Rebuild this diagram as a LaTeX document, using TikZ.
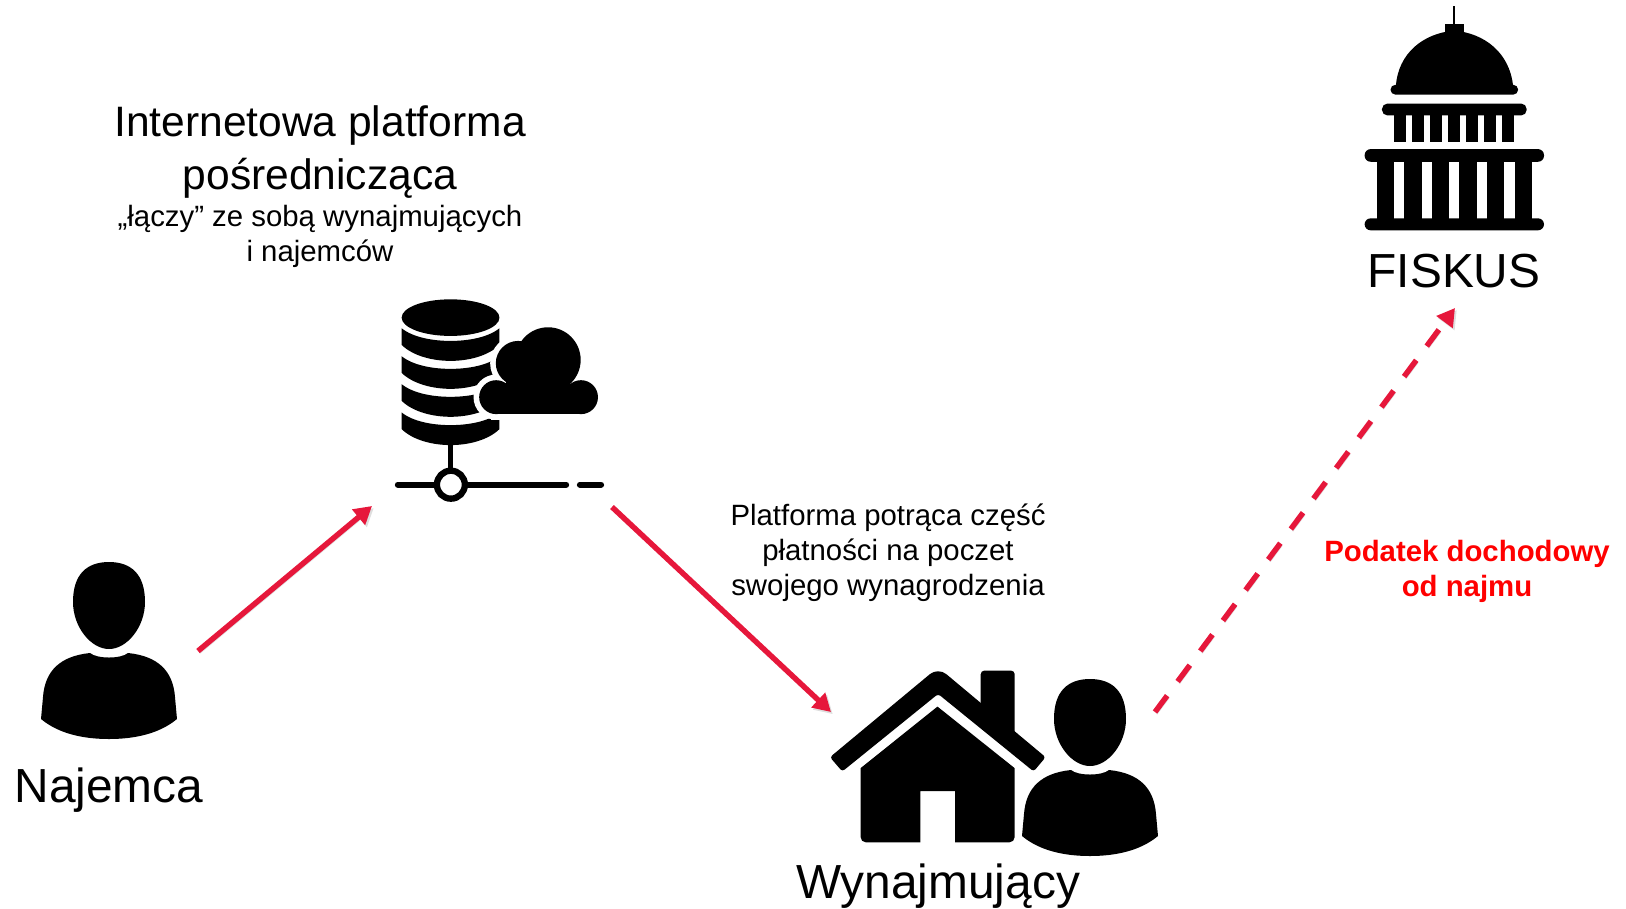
\documentclass[tikz,border=0pt]{standalone}
\usepackage{fontspec}
\setmainfont{Liberation Sans}
\usetikzlibrary{arrows.meta, calc}
\definecolor{crimsonline}{HTML}{E6173B}
\tikzset{
    icon units/.style={x=0.0033333cm, y=-0.0033333cm},
    big label/.style={font=\fontsize{13.6}{16}\selectfont, align=center},
    title label/.style={font=\fontsize{12.1}{14.8}\selectfont, align=center},
    small label/.style={font=\fontsize{8.35}{9.95}\selectfont, align=center},
    tax label/.style={font=\fontsize{8.35}{9.95}\selectfont\bfseries, align=center, text=red},
    flow/.style={crimsonline, line width=1.55pt, -{Triangle[length=5pt, width=5.5pt]},
        preaction={draw=black, opacity=0.13, transform canvas={shift={(0.5pt,-0.6pt)}}, #1}, #1},
    flow/.default={},
    person/.pic={
        \fill (0,0) .. controls (22,0) and (36,12) .. (36,40)
            .. controls (36,65) and (18,87) .. (0,87)
            .. controls (-18,87) and (-36,65) .. (-36,40)
            .. controls (-36,12) and (-22,0) .. (0,0) -- cycle;
        \fill (-19,91) .. controls (-12,97) and (12,97) .. (19,91)
            .. controls (48,94) and (64,108) .. (66,135)
            -- (68,157) .. controls (50,172) and (25,177) .. (0,177)
            .. controls (-25,177) and (-50,172) .. (-68,157)
            -- (-66,135) .. controls (-64,108) and (-48,94) .. (-19,91) -- cycle;
    },
}

\begin{document}
\begin{tikzpicture}[x=0.01cm, y=-0.01cm]
    \useasboundingbox (0,0) rectangle (1626,908);

    % najemca
    \coordinate (najemca_icon) at (109,562);
    \pic at (najemca_icon) {person};
    \node[big label] (najemca) at ($(najemca_icon)+(0,228)$) {Najemca};

    % platforma
    \node[title label] (platforma_title) at (320,152) {Internetowa platforma \\ pośrednicząca};
    \node[small label] (platforma_sub) at (320,236) {„łączy” ze sobą wynajmujących \\ i najemców};
    \begin{scope}[shift={(380,285)}, icon units]
        \fill (212,98) ellipse [x radius=147, y radius=55];
        \foreach \y in {0,84,168,253} {
            \fill (65,130+\y) .. controls (100,158+\y) and (160,168+\y) .. (212,168+\y)
                .. controls (264,168+\y) and (324,158+\y) .. (359,130+\y)
                -- (359,180+\y) .. controls (324,214+\y) and (264,228+\y) .. (212,228+\y)
                .. controls (160,228+\y) and (100,214+\y) .. (65,180+\y) -- cycle;
        }
        \foreach \cx/\cy/\cr in {505/225/98, 415/235/67, 349/337/51, 604/337/51} {
            \draw[white, line width=3.2pt, fill=white] (\cx,\cy) circle (\cr);
        }
        \draw[white, line width=3.2pt, fill=white] (349,300) rectangle (604,388);
        \foreach \cx/\cy/\cr in {505/225/98, 415/235/67, 349/337/51, 604/337/51} {
            \fill (\cx,\cy) circle (\cr);
        }
        \fill (349,300) rectangle (604,388);
        \fill (380,270) rectangle (570,310);
        \fill (205,470) rectangle (220,560);
        \draw[line width=1.8pt, line cap=round] (54,600) -- (559,600);
        \draw[line width=1.8pt, line cap=round] (601,600) -- (664,600);
        \draw[line width=1.8pt, fill=white] (213,600) circle (42);
    \end{scope}

    % wynajmujacy
    \begin{scope}[shift={(810,650)}, icon units]
        \fill[rounded corners=1pt] (513,200) -- (513,62) -- (615,62) -- (615,280) -- cycle;
        \fill[rounded corners=0.8pt] (385,132) -- (97,365) -- (60,322) [rounded corners=3pt] -- (385,52)
            [rounded corners=0.8pt] -- (708,322) -- (672,365) -- cycle;
        \fill (383,170) -- (615,355) -- (615,540) [rounded corners=1.5pt] -- (615,578) [sharp corners] -- (436,578) -- (436,424)
            -- (332,424) -- (332,578) [rounded corners=1.5pt] -- (152,578) [sharp corners] -- (152,355) -- cycle;
    \end{scope}
    \coordinate (wynajmujacy_icon) at (1090,679);
    \pic at (wynajmujacy_icon) {person};
    \node[big label] (wynajmujacy) at (938,886) {Wynajmujący};
    \node[small label] (potracenie) at (888,553) {Platforma potrąca część \\ płatności na poczet \\ swojego wynagrodzenia};

    % fiskus
    \begin{scope}[shift={(1340,0)}, icon units]
        \fill (340,18) rectangle (347,80);
        \fill (314,72) rectangle (372,110);
        \fill (168,258) .. controls (175,160) and (250,100) .. (343,92)
            .. controls (436,100) and (510,160) .. (520,258) -- cycle;
        \fill[rounded corners=1.3pt] (152,255) rectangle (535,284);
        \fill[rounded corners=1.6pt] (126,311) rectangle (561,347);
        \foreach \x in {162,216,270,325,379,434,488} {
            \fill (\x,340) rectangle (\x+36,428);
        }
        \fill[rounded corners=1.7pt] (74,448) rectangle (613,486);
        \foreach \x in {110,193,276,359,442,525} {
            \fill (\x,480) rectangle (\x+52,660);
        }
        \fill[rounded corners=1.7pt] (74,656) rectangle (613,692);
    \end{scope}
    \node[big label] (fiskus) at (1454,271) {FISKUS};
    \node[tax label] (podatek) at (1467,571) {Podatek dochodowy \\ od najmu};

    % strzalki
    \coordinate (najemca_out) at (198,651);
    \coordinate (platforma_in) at (372,506);
    \coordinate (platforma_out) at (612,507);
    \coordinate (wynajmujacy_in) at (831,712);
    \coordinate (wynajmujacy_out) at (1155,712);
    \coordinate (fiskus_in) at (1455,308);
    \draw[flow] (najemca_out) -- (platforma_in);
    \draw[flow] (platforma_out) -- (wynajmujacy_in);
    \draw[flow={dash pattern=on 5.8pt off 5pt}] (wynajmujacy_out) -- (fiskus_in);
\end{tikzpicture}
\end{document}
